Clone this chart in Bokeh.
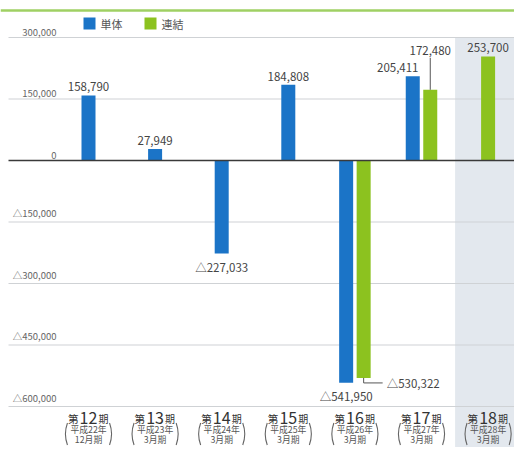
import math
from bokeh.plotting import figure
from bokeh.models import Range1d
from bokeh.core.properties import value
from bokeh.embed import file_html
from bokeh.resources import INLINE

# ---------------- data ----------------
period_numbers = ["12", "13", "14", "15", "16", "17", "18"]
era_years = ["平成22年", "平成23年", "平成24年", "平成25年", "平成26年", "平成27年", "平成28年"]
fiscal_terms = ["12月期", "3月期", "3月期", "3月期", "3月期", "3月期", "3月期"]
standalone = [158790, 27949, -227033, 184808, -541950, 205411, None]
consolidated = [None, None, None, None, -530322, 172480, 253700]
y_ticks = [300000, 150000, 0, -150000, -300000, -450000, -600000]
series_names = ["単体", "連結"]

# ---------------- layout (pixel space) ----------------
W, H = 514, 447
PX_X = 66.6            # px per category
X0_PX = 88             # px of category 0 centre
PX_Y = 0.41 / 1000     # px per unit
Y0_PX = 160            # px of zero line (from top)

x_start = -X0_PX / PX_X
x_end = (W - X0_PX) / PX_X
y_end = Y0_PX / PX_Y
y_start = -(H - Y0_PX) / PX_Y


def dx(px):
    return px / PX_X


def dy(px):
    return px / PX_Y


def xpx(px):
    return (px - X0_PX) / PX_X


def ypx(py):
    return (Y0_PX - py) / PX_Y


BLUE = "#1b74c7"
GREEN = "#8cc21f"
BG = "#e3e8ee"
GRID = "#cfd2d5"
ZERO = "#3a3a3a"
TXT = "#444444"
LIGHT = "#666666"
FONT = value("Noto Sans CJK JP")

n = len(period_numbers)
cats = list(range(n))


def fmt(v):
    s = f"{abs(v):,}"
    return ("△" + s) if v < 0 else s


p = figure(width=W, height=H, output_backend="svg", toolbar_location=None,
           x_range=Range1d(x_start, x_end), y_range=Range1d(y_start, y_end),
           min_border=0, min_border_left=0, min_border_right=0,
           min_border_top=0, min_border_bottom=0)
p.axis.visible = False
p.xgrid.visible = False
p.ygrid.visible = False
p.outline_line_color = None
p.background_fill_color = "white"
p.border_fill_color = "white"

# highlight for latest period
last = n - 1
p.quad(left=[last - dx(33)], right=[x_end], top=[y_ticks[0]], bottom=[y_start],
       fill_color=BG, line_color=None)

# top decorative green rule
p.segment(x0=[x_start], x1=[x_end], y0=[ypx(10)], y1=[ypx(10)],
          line_color="#9fd063", line_width=2.5)

# gridlines
for t in y_ticks:
    if t == 0:
        continue
    p.segment(x0=[xpx(8)], x1=[x_end], y0=[t], y1=[t],
              line_color=GRID, line_width=1.2)

# tick labels
p.text(x=[xpx(56)] * len(y_ticks), y=[t + dy(2) for t in y_ticks],
       text=[("0" if t == 0 else fmt(t)) for t in y_ticks],
       text_align="right", text_baseline="bottom", text_font=FONT,
       text_font_size="9.5px", text_color=LIGHT)

# bars
BAR_W = dx(14)
PAIR = dx(8.75)
b_x, b_top = [], []
g_x, g_top = [], []
for i in cats:
    s, c = standalone[i], consolidated[i]
    both = s is not None and c is not None
    if s is not None:
        b_x.append(i - PAIR if both else i)
        b_top.append(s)
    if c is not None:
        g_x.append(i + PAIR if both else i)
        g_top.append(c)

p.vbar(x=b_x, top=b_top, bottom=0, width=BAR_W, fill_color=BLUE, line_color=None)
p.vbar(x=g_x, top=g_top, bottom=0, width=BAR_W, fill_color=GREEN, line_color=None)

# zero line
p.segment(x0=[xpx(8)], x1=[x_end], y0=[0], y1=[0], line_color=ZERO, line_width=1.6)

# value labels
lab_x, lab_y, lab_t, lab_align, lab_base = [], [], [], [], []
leader_xs, leader_ys = [], []


def add_label(x, v, special=None):
    if special == "left_shift":
        lab_x.append(x - dx(15)); lab_y.append(v + dy(4))
        lab_align.append("center"); lab_base.append("bottom")
    elif special == "leader_up":
        lab_x.append(x); lab_y.append(v + dy(35))
        lab_align.append("center"); lab_base.append("bottom")
        leader_xs.append([x, x]); leader_ys.append([v, v + dy(32)])
    elif special == "leader_right":
        lab_x.append(x + dx(23)); lab_y.append(v - dy(5))
        lab_align.append("left"); lab_base.append("middle")
        leader_xs.append([x, x, x + dx(19)])
        leader_ys.append([v, v - dy(5), v - dy(5)])
    elif v >= 0:
        lab_x.append(x); lab_y.append(v + dy(4))
        lab_align.append("center"); lab_base.append("bottom")
    else:
        lab_x.append(x); lab_y.append(v - dy(5))
        lab_align.append("center"); lab_base.append("top")
    lab_t.append(fmt(v))


bi = 0
gi = 0
for i in cats:
    s, c = standalone[i], consolidated[i]
    both = s is not None and c is not None
    if s is not None:
        add_label(b_x[bi], s, "left_shift" if (both and s > 0) else None)
        bi += 1
    if c is not None:
        sp = None
        if both:
            sp = "leader_up" if c > 0 else "leader_right"
        add_label(g_x[gi], c, sp)
        gi += 1

p.multi_line(xs=leader_xs, ys=leader_ys, line_color="#555555", line_width=1)
p.text(x=lab_x, y=lab_y, text=lab_t, text_align=lab_align, text_baseline=lab_base,
       text_font=FONT, text_font_size="11.5px", text_color=TXT)

# legend
p.scatter(x=[xpx(89), xpx(150)], y=[ypx(23), ypx(23)], marker="square", size=12,
          fill_color=[BLUE, GREEN], line_color=None)
p.text(x=[xpx(100), xpx(161)], y=[ypx(23), ypx(23)], text=series_names,
       text_align="left", text_baseline="middle", text_font=FONT,
       text_font_size="11px", text_color="#555555")

# category labels
p.text(x=cats, y=[ypx(417)] * n, text=period_numbers, text_align="center",
       text_baseline="middle", text_font=FONT, text_font_size="16px",
       text_color="#333333")
p.text(x=[i - dx(10) for i in cats], y=[ypx(418)] * n, text=["第"] * n,
       text_align="right", text_baseline="middle", text_font=FONT,
       text_font_size="10.5px", text_color="#333333")
p.text(x=[i + dx(10) for i in cats], y=[ypx(418)] * n, text=["期"] * n,
       text_align="left", text_baseline="middle", text_font=FONT,
       text_font_size="10px", text_color="#333333")
p.text(x=cats, y=[ypx(428.5)] * n, text=era_years, text_align="center",
       text_baseline="middle", text_font=FONT, text_font_size="8.8px",
       text_color="#555555")
p.text(x=cats, y=[ypx(438.5)] * n, text=fiscal_terms, text_align="center",
       text_baseline="middle", text_font=FONT, text_font_size="8.8px",
       text_color="#555555")

# brackets drawn as arcs
R = 32
half = math.asin(11 / R)
p.arc(x=[i - dx(23) + dx(R) for i in cats], y=[ypx(433.5)] * n, radius=R,
      radius_units="screen", start_angle=math.pi - half, end_angle=math.pi + half,
      line_color="#666666", line_width=1.1)
p.arc(x=[i + dx(23) - dx(R) for i in cats], y=[ypx(433.5)] * n, radius=R,
      radius_units="screen", start_angle=-half, end_angle=half,
      line_color="#666666", line_width=1.1)

open("out.html", "w").write(file_html(p, INLINE))
